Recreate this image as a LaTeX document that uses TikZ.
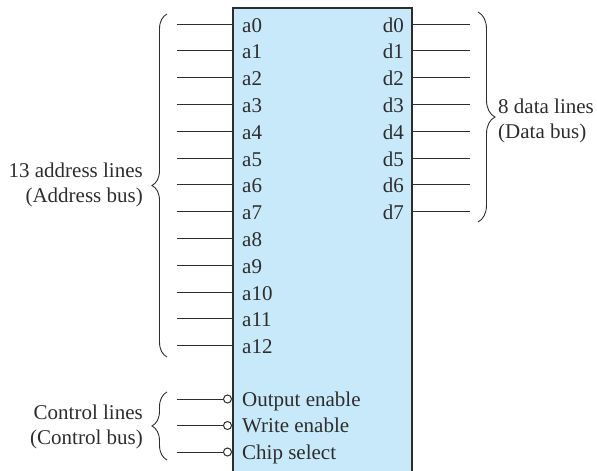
\documentclass[tikz,border=0pt]{standalone}
\usepackage{fontspec}
\setmainfont{Liberation Serif}
\usetikzlibrary{positioning, decorations.pathreplacing, calc}
\definecolor{ink}{RGB}{45, 45, 45}
\definecolor{chipblue}{RGB}{200, 233, 249}

\begin{document}
\begin{tikzpicture}[x=1pt, y=-1pt,
            chip/.style={draw=ink, line width=2pt, fill=chipblue, minimum width=179pt, minimum height=470pt, inner sep=0pt},
            pin/.style={font=\fontsize{21}{25}\selectfont, text=ink, inner sep=0pt},
            lbl/.style={font=\fontsize{21}{25}\selectfont, text=ink, inner sep=0pt},
            wire/.style={draw=ink, line width=1pt},
            bubble/.style={circle, draw=ink, line width=1pt, fill=white, minimum size=8pt, inner sep=0pt},
            bus/.style={draw=ink, line width=0.9pt, decorate, decoration={brace, amplitude=15pt}}
        ]
            \useasboundingbox (0,0) rectangle (597,471);
            \node[chip] (mem) at (322.5,243) {};

            % address pins
            \foreach \i in {0,...,12} {
                \coordinate (ae\i) at (177,24+26.8*\i);
                \draw[wire] (ae\i) -- (ae\i -| mem.west);
                \node[pin, anchor=base west] (a\i) at ($(ae\i -| mem.west)+(10,8)$) {a\i};
            }

            % data pins
            \foreach \i in {0,...,7} {
                \coordinate (de\i) at (470,24+26.8*\i);
                \draw[wire] (de\i) -- (de\i -| mem.east);
                \node[pin, anchor=base east] (d\i) at ($(de\i -| mem.east)+(-9,8)$) {d\i};
            }

            % control pins
            \foreach \i/\txt [count=\k from 0] in {oe/Output enable, we/Write enable, cs/Chip select} {
                \coordinate (ce\i) at (177,399+26.5*\k);
                \node[bubble, anchor=east] (b\i) at (ce\i -| mem.west) {};
                \draw[wire] (ce\i) -- (b\i);
                \node[pin, anchor=base west] (\i) at ($(ce\i -| mem.west)+(10,7)$) {\txt};
            }

            % buses
            \draw[bus] (167,357) -- (167,14);
            \draw[bus, decoration={amplitude=17pt}] (478,12) -- (478,222);
            \draw[bus] (167,460) -- (167,392);

            \node[lbl, align=right, anchor=east] (addr) at (143,185) {13 address lines\\(Address bus)};
            \node[lbl, align=left, anchor=west] (data) at (498,121) {8 data lines\\(Data bus)};
            \node[lbl, align=right, anchor=east] (ctrl) at (143,427) {Control lines\\(Control bus)};
        \end{tikzpicture}
\end{document}
